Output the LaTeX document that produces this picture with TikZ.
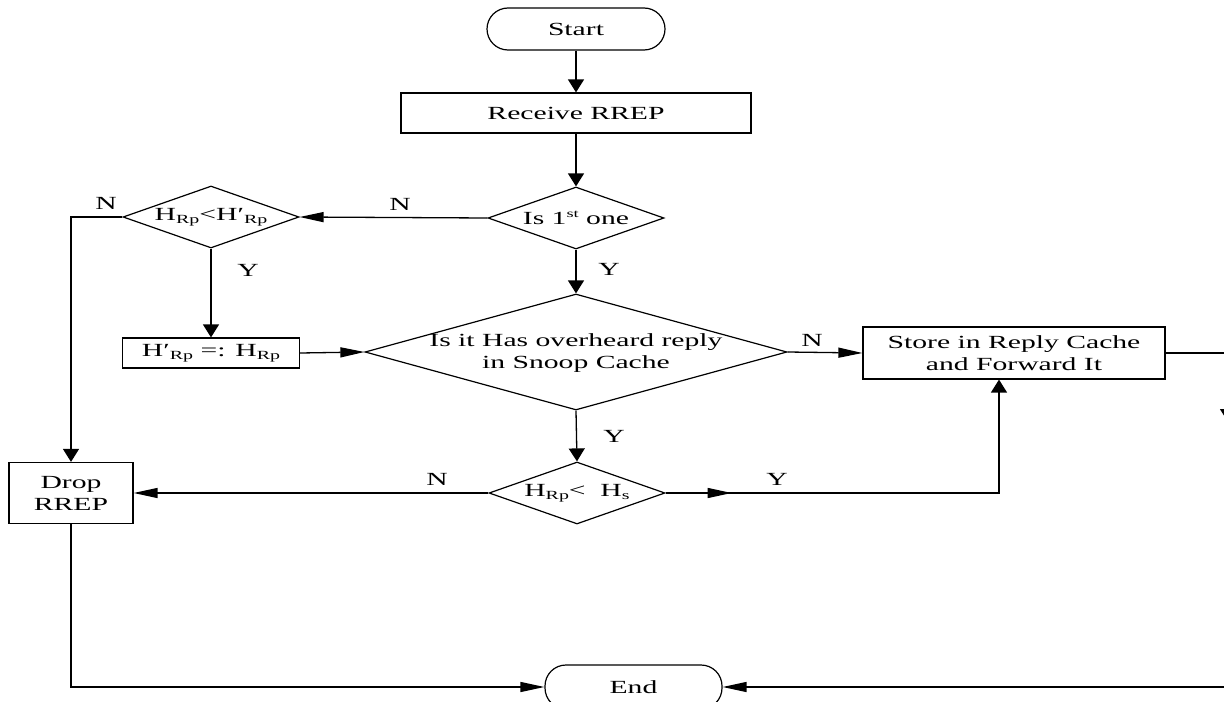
\documentclass[tikz,border=0pt]{standalone}
\usepackage{fontspec}
\setmainfont[FakeStretch=1.6]{Liberation Serif}
\usetikzlibrary{arrows.meta,shapes.geometric}
\newcommand\lowsub[1]{\raisebox{-0.35ex}{\fontsize{12.5}{12.5}\selectfont #1}}
\newcommand\hisup[1]{\raisebox{0.75ex}{\fontsize{11.5}{11.5}\selectfont #1}}
\newcommand\primed{\char"2032}

\begin{document}
\begin{tikzpicture}[x=1bp,y=-1bp,
  every node/.style={font=\fontsize{18.6}{22}\selectfont, inner sep=0pt},
  line/.style={line width=1.3bp, draw=black},
  varrow/.style={line, -{Triangle[length=13bp,width=16bp]}},
  harrow/.style={line, -{Triangle[length=24bp,width=10bp]}},
  terminal/.style={draw, line width=1.2bp, rectangle, rounded corners=21bp,
                   minimum width=178bp, minimum height=42bp},
  process/.style={draw, line width=1.2bp, rectangle, align=center},
  decision/.style={draw, line width=1.2bp, diamond, inner sep=0pt},
  yn/.style={font=\fontsize{18.6}{20}\selectfont}]

\clip (0,0) rectangle (1224,702);
\fill[white] (0,0) rectangle (1224,702);

% terminals
\node[terminal] (start) at (576,29) {Start};
\node[terminal, minimum width=177bp, minimum height=44bp] (end) at (633.5,687) {End};

% processes
\node[process, minimum width=350bp, minimum height=40bp] (recv) at (576,113) {Receive RREP};
\node[process, minimum width=177bp, minimum height=30bp] (upd) at (211,353)
  {H\primed\lowsub{Rp} =: H\lowsub{Rp}};
\node[process, minimum width=302bp, minimum height=52bp] (store) at (1014,353)
  {Store in Reply Cache\\and Forward It};
\node[process, minimum width=124bp, minimum height=61bp] (drop) at (71,493)
  {Drop\\RREP};

% decisions
\node[decision, minimum width=176bp, minimum height=62bp,
      label={center:Is 1\hisup{st} one}] (first) at (576,218) {};
\node[decision, minimum width=176bp, minimum height=62bp,
      label={center:H\lowsub{Rp}<H\primed\lowsub{Rp}}] (cmp) at (211,217) {};
\node[decision, minimum width=422bp, minimum height=116bp,
      label={[align=center, yshift=-1bp]center:Is it Has overheard reply\\in Snoop Cache}] (snoop) at (576,352) {};
\node[decision, minimum width=176bp, minimum height=62bp,
      label={center:H\lowsub{Rp}<\ \ H\lowsub{s}}] (hs) at (577,493) {};

% off-page ends of the right-hand branch
\coordinate (rtip) at (1228,422);
\coordinate (rin) at (1240,687);
\coordinate (yturn) at (999,493);

% connectors
\draw[varrow] (start) -- (recv);
\draw[varrow] (recv) -- (first);
\draw[harrow] (first.west) -- (cmp.east);
\draw[varrow] (cmp.west) -| (drop.north);
\draw[varrow] (cmp.south) -- (upd.north);
\draw[harrow] (upd.east) -- (snoop.west);
\draw[varrow] (first.south) -- (snoop.north);
\draw[harrow] (snoop.east) -- (store.west);
\draw[varrow] (snoop.south) -- (hs.north);
\draw[harrow] (hs.west) -- (drop.east);
\draw[harrow] (hs.east) -- ++(66,0);
\draw[varrow] (hs.east) -- (yturn) -- (yturn |- store.south);
\draw[harrow] (drop.south) |- (end.west);
\draw[varrow] (store.east) -| (rtip);
\draw[harrow] (rin) -- (end.east);

% branch labels
\node[yn] (n1) at (400,204) {N};
\node[yn] (n2) at (106,203) {N};
\node[yn] (y1) at (248,270) {Y};
\node[yn] (y2) at (609,269) {Y};
\node[yn] (n3) at (812,340) {N};
\node[yn] (y3) at (614,436) {Y};
\node[yn] (n4) at (437,479) {N};
\node[yn] (y4) at (777,479) {Y};
\end{tikzpicture}
\end{document}
